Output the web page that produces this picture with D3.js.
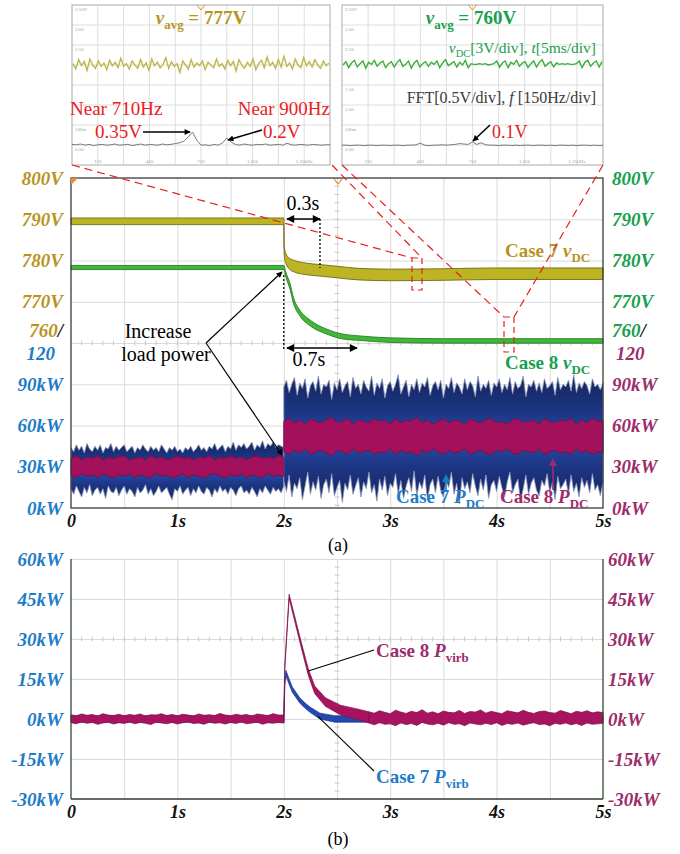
<!DOCTYPE html>
<html><head><meta charset="utf-8">
<script src="https://cdn.jsdelivr.net/npm/d3@7"></script>
<style>body{margin:0;background:#fff} svg text{font-family:"Liberation Serif","DejaVu Serif","Times New Roman",serif}</style>
</head><body><svg id="c" width="680" height="854"></svg>
<script>
// ---------------- DATA ----------------
const timeTicks = [0,1,2,3,4,5];
const vTicksLeft = [770,780,790,800];
const pTicksA = [0,30,60,90];
const pTicksB = [-30,-15,0,15,30,45,60];

// Case 7 vDC (s, V) and band half-width (V)
const tV7 = [0,1.0,2.0,2.003,2.02,2.05,2.1,2.2,2.35,2.5,2.7,3.0,3.5,4.0,4.5,5.0];
const v7  = [789.5,789.5,789.5,782.5,780.5,779.3,778.6,778.0,777.6,777.2,776.7,776.5,776.6,776.8,776.8,776.8];
const w7  = [0.8,0.8,0.8,1.0,1.2,1.3,1.4,1.4,1.4,1.4,1.4,1.4,1.4,1.4,1.4,1.4];
// Case 8 vDC
const tV8 = [0,2.0,2.02,2.06,2.09,2.15,2.25,2.4,2.55,2.7,3.0,3.5,4.0,5.0];
const v8  = [778.3,778.3,776.5,773.6,770.4,767.3,764.8,762.8,761.6,761.2,760.7,760.5,760.5,760.5];
const w8  = [0.5,0.5,0.6,0.7,0.7,0.7,0.7,0.6,0.6,0.55,0.55,0.55,0.55,0.55];

// Case 7 PDC envelope (kW), 0.025 s samples; pre: 0..2 s, post: 2..5 s
const p7PreHi = [44,41,46,42,45,40,47,43,41,45,42,46,40,44,43,47,41,45,42,44,46,41,43,45,40,44,42,46,43,41,45,42,44,41,46,43,40,44,42,45,
 41,43,40,44,42,45,41,43,46,42,44,41,45,43,47,42,44,46,41,45,43,48,42,46,44,47,43,45,48,42,46,44,49,43,47,45,48,44,46,45,44];
const p7PreLo = [14,10,16,12,8,15,11,17,9,13,15,10,14,7,16,12,11,15,9,13,16,10,14,12,8,15,11,13,17,10,14,9,12,16,11,13,15,10,6,14,
 12,16,10,13,15,9,14,11,16,12,10,15,13,8,14,11,16,12,14,10,15,13,9,14,16,11,13,10,15,12,8,14,11,16,13,10,15,12,14,11,16];
const p7PostHi = [88,93,84,90,95,82,91,87,94,80,89,92,85,96,83,90,88,93,79,91,86,94,84,89,92,81,95,87,90,83,93,88,85,96,82,91,87,94,80,89,
 92,85,90,97,83,88,93,81,90,86,94,84,91,88,95,82,89,92,86,93,80,90,87,95,84,91,88,83,94,86,92,89,81,96,85,90,87,93,82,91,
 88,94,84,90,86,95,83,92,87,89,96,81,90,88,93,85,91,84,94,87,89,92,82,95,86,90,88,93,85,97,84,91,87,92,89,83,94,88,90,86,91];
const p7PostLo = [20,12,24,8,18,14,22,6,16,26,10,19,13,23,7,17,21,11,25,9,15,20,4,18,13,24,10,16,22,8,19,14,26,11,17,5,21,13,23,9,
 18,15,25,10,20,7,16,22,12,27,9,19,14,24,6,17,21,11,23,13,8,20,15,26,10,18,3,22,14,19,11,25,16,9,21,13,24,7,17,20,
 12,23,15,8,19,26,11,17,21,5,14,24,10,18,22,13,9,20,16,25,11,19,6,23,14,17,21,10,24,12,18,8,22,15,20,11,25,13,17,9,19];
// Case 8 PDC envelope (kW), 0.05 s samples
const p8PreHi = [36,38,35,37,36,38,35,37,36,37,38,35,36,37,35,38,36,37,35,36,38,36,37,35,37,36,38,35,37,36,38,36,37,35,37,38,36,37,36,38,37];
const p8PreLo = [24,22,25,23,24,22,25,23,22,24,23,25,22,24,23,22,25,23,24,22,23,25,22,24,23,22,24,25,23,22,24,23,25,22,24,23,22,25,23,24,23];
const p8PostHi = [63,65,62,64,61,65,63,62,64,66,62,63,65,61,64,63,62,65,63,64,61,65,62,64,63,66,62,64,61,63,65,62,64,63,61,65,63,62,64,65,62,63,61,64,65,62,63,64,61,65,63,62,64,63,65,61,64,62,65,63,64];
const p8PostLo = [41,39,42,40,43,39,41,42,40,38,42,41,39,43,40,41,42,39,41,40,43,39,42,40,41,38,42,40,43,41,39,42,40,41,43,39,41,42,40,39,42,41,43,40,39,42,41,40,43,39,41,42,40,41,39,43,40,42,39,41,40];

// Case 7 Pvirb (kW) with band half-width
const tP7 = [0,2.0,2.01,2.02,2.05,2.08,2.15,2.2,2.25,2.34,2.48,5.0];
const pv7 = [0,0,14,17.2,14,11,7,5,3.4,1.1,0,0];
const wv7 = [1.2,1.2,1,1,1,1,1,1,1,1.1,1.2,1.2];
// Case 8 Pvirb: transient 2.0..2.8 s (mean, half-width), noise envelopes 0..2 s and 2.8..5 s (0.05 s samples)
const tP8 = [2.0,2.01,2.05,2.1,2.15,2.23,2.29,2.39,2.53,2.72,2.8];
const pv8 = [0,20,46,38,30,17.6,11,6.4,3.4,1.5,0.6];
const wv8 = [1.5,0.8,0.8,0.9,1.0,1.2,1.4,1.6,1.8,2.0,2.1];
const n8PreHi = [1.6,1.2,1.9,1.4,1.7,1.1,2.0,1.5,1.3,1.8,1.2,1.7,1.4,1.9,1.1,1.6,1.5,2.0,1.3,1.7,1.2,1.8,1.5,1.1,1.9,1.4,1.6,1.3,2.1,1.5,1.2,1.8,1.4,1.7,1.1,1.9,1.6,1.3,2.0,1.5,1.5];
const n8PreLo = [-1.4,-1.8,-1.1,-1.6,-1.3,-2.0,-1.5,-1.2,-1.9,-1.4,-1.7,-1.1,-1.8,-1.3,-1.6,-2.1,-1.2,-1.5,-1.8,-1.3,-1.9,-1.4,-1.1,-1.7,-1.5,-2.0,-1.2,-1.6,-1.4,-1.9,-1.3,-1.7,-1.1,-1.8,-1.5,-1.2,-2.0,-1.4,-1.6,-1.3,-1.5];
const n8PostHi = [2.7,2.2,3.1,2.5,2.0,3.3,2.6,2.1,2.9,2.4,3.5,2.2,2.7,2.0,3.0,2.5,2.3,3.2,2.1,2.8,2.6,3.4,2.2,2.9,2.4,2.0,3.1,2.7,2.3,3.3,2.5,2.1,2.8,3.0,2.4,2.2,3.2,2.6,2.0,2.9,2.5,3.1,2.3,2.7,2.4];
const n8PostLo = [-1.5,-2.2,-1.4,-2.0,-1.8,-2.5,-1.5,-2.1,-1.7,-2.4,-1.3,-1.9,-2.2,-1.6,-2.3,-1.4,-2.0,-1.8,-2.5,-1.5,-1.9,-2.2,-1.6,-2.1,-1.4,-2.4,-1.7,-2.0,-1.5,-2.3,-1.8,-1.4,-2.1,-1.9,-2.5,-1.6,-2.0,-1.5,-2.2,-1.7,-2.4,-1.5,-2.0,-1.8,-1.6];

// Inset waveforms (V) and FFT (V, 25 Hz bins)
const ins7 = [777.2,776.4,777.8,776.9,777.5,776.2,777.9,777.0,776.5,777.6,776.8,777.3,776.3,777.7,776.9,777.4,776.6,778.0,776.8,777.2,776.4,777.6,777.0,776.5,777.8,776.7,777.3,776.2,777.9,776.9,777.4,776.6,777.1,778.1,776.5,777.5,776.8,777.2,775.9,777.6,
777.0,776.4,777.8,776.7,777.3,776.9,777.6,776.3,777.4,777.0,776.6,777.9,776.8,777.2,776.4,777.7,776.9,777.5,776.1,777.8,777.0,776.5,777.4,776.8,777.9,776.3,777.2,777.7,776.6,778.2,
776.9,777.4,776.5,777.8,776.7,778.3,776.8,777.3,776.4,777.9,777.0,776.6,778.1,776.9,777.5,776.7,777.8,777.0,776.5,777.6,776.9,777.3];
const ins8 = [760.0,760.5,759.6,760.3,760.7,759.7,760.2,760.6,759.5,760.4,760.1,760.7,759.8,760.3,760.6,759.6,760.2,760.5,759.7,760.4,760.8,759.8,760.1,760.6,759.5,760.3,760.7,759.7,760.2,760.5,759.8,760.4,760.1,760.6,759.6,760.3,760.8,759.9,760.2,760.5,
759.7,760.4,760.0,760.7,759.6,760.2,760.1,760.1,760.2,760.1,760.2,760.0,760.1,760.2,760.6,759.7,760.3,760.6,759.6,760.4,760.1,760.7,759.8,760.3,760.5,759.6,760.2,760.6,759.7,760.4,
760.8,759.8,760.2,760.5,759.7,760.3,760.1,760.2,760.1,760.2,760.1,760.1,760.2,760.6,759.6,760.4,760.7,759.8,760.3,760.6,759.7,760.5];
const fft7 = [0.04,0.03,0.05,0.02,0.04,0.01,0.03,0.04,0.02,0.03,0.05,0.02,0.03,0.04,0.01,0.03,0.05,0.02,0.04,0.03,0.02,0.05,0.03,0.04,0.06,0.08,0.12,0.22,0.35,0.15,0.02,0.03,0.01,0.04,0.02,0.08,0.20,0.10,0.04,0.02,0.05,0.03,0.02,0.04,0.03,0.05,0.02,0.03,0.04,0.02,0.07,0.03,0.02,0.04,0.03,0.02,0.04,0.03,0.02,0.03,0.03];
const fft8 = [0.02,0.02,0.01,0.02,0.02,0.01,0.02,0.02,0.01,0.02,0.02,0.01,0.02,0.02,0.01,0.02,0.02,0.03,0.07,0.02,0.01,0.02,0.02,0.03,0.02,0.03,0.04,0.06,0.05,0.04,0.10,0.04,0.08,0.03,0.02,0.02,0.01,0.02,0.02,0.01,0.02,0.01,0.02,0.02,0.01,0.02,0.02,0.01,0.02,0.01,0.02,0.02,0.01,0.02,0.01,0.02,0.02,0.01,0.02,0.01,0.02];
const insYLabels = ["3.50V","3.00","2.50","2.00","1.50","1.00","500m","0.00"];
const insXLabels = ["150","450","750","1.05k","1.35kHz"];

// ---------------- DRAW ----------------
const SERIF = "'Liberation Serif','DejaVu Serif','Times New Roman',serif";
const svg = d3.select("#c").attr("font-family",SERIF);
const C = {gold:"#B8941E", green:"#17A04E", blue:"#1E7CC6", maroon:"#9C2C6C", red:"#E8201E"};
const xA = d3.scaleLinear().domain([0,5]).range([71,603]);
const yV = d3.scaleLinear().domain([760,800]).range([343,178]);
const yP = d3.scaleLinear().domain([0,120]).range([508,343]);
const yB = d3.scaleLinear().domain([-30,60]).range([799,559]);

const defs = svg.append("defs");
defs.append("marker").attr("id","ah").attr("viewBox","0 0 10 10").attr("refX",9).attr("refY",5)
  .attr("markerWidth",8).attr("markerHeight",6).attr("markerUnits","userSpaceOnUse").attr("orient","auto-start-reverse")
  .append("path").attr("d","M0,0L10,5L0,10z").attr("fill","#000");
defs.append("marker").attr("id","ahb").attr("viewBox","0 0 10 10").attr("refX",9).attr("refY",5)
  .attr("markerWidth",10).attr("markerHeight",8).attr("markerUnits","userSpaceOnUse").attr("orient","auto-start-reverse")
  .append("path").attr("d","M0,0L10,5L0,10z").attr("fill","#000");
function grad(id, y1, y2, stops){
  const g = defs.append("linearGradient").attr("id",id).attr("gradientUnits","userSpaceOnUse")
    .attr("x1",0).attr("x2",0).attr("y1",y1).attr("y2",y2);
  stops.forEach(s=>g.append("stop").attr("offset",s[0]).attr("stop-color",s[1]));
}
const bStops = [[0,"#16245a"],[0.3,"#1d3786"],[0.5,"#2a4ca8"],[0.7,"#1d3786"],[1,"#16245a"]];
grad("gPre", yP(49), yP(4), bStops);
grad("gPost", yP(97), yP(3), bStops);

function rich(x, y, parts, fill, size, weight, anchor){
  const t = svg.append("text").attr("x",x).attr("y",y).attr("fill",fill).attr("font-size",size)
    .attr("font-family",SERIF).attr("font-weight",weight||"normal").attr("text-anchor",anchor||"start");
  let sh = 0;
  parts.forEach(p=>{
    const s = t.append("tspan").text(p[0]);
    const k = p[1]||"";
    if (k.includes("i")) s.attr("font-style","italic");
    if (k.includes("s")) { s.attr("font-size",size*0.68); if(!sh){ s.attr("dy",size*0.28); sh=size*0.28; } }
    else if (sh) { s.attr("dy",-sh); sh=0; }
  });
  return t;
}
function txt(x,y,s,size,opt){
  const t = svg.append("text").attr("x",x).attr("y",y).attr("font-size",size).attr("font-family",SERIF).text(s);
  Object.entries(opt||{}).forEach(([k,v])=>t.attr(k,v));
  return t;
}
function styleAxis(g, color, size){
  g.attr("font-family",SERIF);
  g.select(".domain").remove();
  g.selectAll("text").attr("fill",color).attr("font-size",size||19).attr("font-weight","bold").attr("font-style","italic")
    .attr("font-family",SERIF);
}

// ---- Chart (a) grid ----
const ga = svg.append("g");
ga.append("g").attr("transform","translate(0,508)")
  .call(d3.axisBottom(xA).tickValues(d3.range(0.5,5,0.5)).tickSize(-330).tickFormat(""))
  .call(g=>{g.select(".domain").remove(); g.selectAll("line").attr("stroke","#dadada");});
ga.append("g").attr("transform","translate(71,0)")
  .call(d3.axisLeft(yV).tickValues([770,780,790]).tickSize(-532).tickFormat(""))
  .call(g=>{g.select(".domain").remove(); g.selectAll("line").attr("stroke","#dadada");});
ga.append("g").attr("transform","translate(71,0)")
  .call(d3.axisLeft(yP).tickValues([30,60,90,120]).tickSize(-532).tickFormat(""))
  .call(g=>{g.select(".domain").remove(); g.selectAll("line").attr("stroke","#dadada");});
ga.selectAll(".mtx").data(d3.range(0.1,5,0.1)).join("line")
  .attr("x1",d=>xA(d)).attr("x2",d=>xA(d)).attr("y1",yP(120)-2.5).attr("y2",yP(120)+2.5).attr("stroke","#c8c8c8");
ga.selectAll(".mty").data(d3.range(2,120,6)).join("line")
  .attr("x1",xA(2.5)-2.5).attr("x2",xA(2.5)+2.5).attr("y1",d=>yP(d)).attr("y2",d=>yP(d)).attr("stroke","#c8c8c8");
ga.selectAll(".mtv").data(d3.range(762,800,2)).join("line")
  .attr("x1",xA(2.5)-2.5).attr("x2",xA(2.5)+2.5).attr("y1",d=>yV(d)).attr("y2",d=>yV(d)).attr("stroke","#c8c8c8");

// ---- Power traces (a) ----
function envArea(hi, lo, t0, dt, ys){
  return d3.area().x((d,i)=>xA(t0+i*dt)).y1((d,i)=>ys(hi[i])).y0((d,i)=>ys(lo[i]));
}
svg.append("path").datum(p7PreHi).attr("d",envArea(p7PreHi,p7PreLo,0,0.025,yP))
  .attr("fill","url(#gPre)").attr("stroke","#8c98bc").attr("stroke-width",0.8);
svg.append("path").datum(p7PostHi).attr("d",envArea(p7PostHi,p7PostLo,2,0.025,yP))
  .attr("fill","url(#gPost)").attr("stroke","#8c98bc").attr("stroke-width",0.8);
svg.append("path").datum(p8PreHi).attr("d",envArea(p8PreHi,p8PreLo,0,0.05,yP))
  .attr("fill","#a3105c").attr("stroke","#7a0c46").attr("stroke-width",0.8);
svg.append("path").datum(p8PostHi).attr("d",envArea(p8PostHi,p8PostLo,2,0.05,yP))
  .attr("fill","#a3105c").attr("stroke","#7a0c46").attr("stroke-width",0.8);

// ---- Voltage traces (a) ----
function vBand(t, v, w){
  return d3.area().curve(d3.curveMonotoneX).x((d,i)=>xA(t[i])).y0((d,i)=>yV(v[i]-w[i])).y1((d,i)=>yV(v[i]+w[i]));
}
svg.append("path").datum(v8).attr("d",vBand(tV8,v8,w8)).attr("fill","#3fb83a").attr("stroke","#2b7f22").attr("stroke-width",0.9);
svg.append("path").datum(v7).attr("d",vBand(tV7,v7,w7)).attr("fill","#bdb423").attr("stroke","#6e6a12").attr("stroke-width",0.9);

svg.append("rect").attr("x",71).attr("y",178).attr("width",532).attr("height",330)
  .attr("fill","none").attr("stroke","#3a3a3a").attr("stroke-width",1.3);
svg.append("path").attr("d","M71,178L78,178L71,185Z").attr("fill","#f08a24");
svg.append("path").attr("d","M334,179L338,184L342,179").attr("fill","none").attr("stroke","#f08a24").attr("stroke-width",1.2);

// axes labels (a)
svg.append("g").attr("transform","translate(71,0)").call(d3.axisLeft(yV).tickValues(vTicksLeft).tickSize(0).tickPadding(8).tickFormat(d=>d+"V")).call(g=>styleAxis(g,C.gold));
svg.append("g").attr("transform","translate(603,0)").call(d3.axisRight(yV).tickValues(vTicksLeft).tickSize(0).tickPadding(9).tickFormat(d=>d+"V")).call(g=>styleAxis(g,C.green));
svg.append("g").attr("transform","translate(71,0)").call(d3.axisLeft(yP).tickValues(pTicksA).tickSize(0).tickPadding(8).tickFormat(d=>d+"kW")).call(g=>styleAxis(g,C.blue));
svg.append("g").attr("transform","translate(603,0)").call(d3.axisRight(yP).tickValues(pTicksA).tickSize(0).tickPadding(9).tickFormat(d=>d+"kW")).call(g=>styleAxis(g,C.maroon));
svg.append("g").attr("transform","translate(0,508)").call(d3.axisBottom(xA).tickValues(timeTicks).tickSize(0).tickPadding(6).tickFormat(d=>d?d+"s":"0")).call(g=>styleAxis(g,"#111",18));
function combo(x, anchor, c1, c2){
  const t = svg.append("text").attr("x",x).attr("y",337).attr("font-size",19).attr("font-family",SERIF).attr("font-weight","bold").attr("font-style","italic").attr("text-anchor",anchor);
  t.append("tspan").attr("fill",c1).text("760"); t.append("tspan").attr("fill","#111").text("/");
  svg.append("text").attr("x", anchor==="end"? x-8 : x+4).attr("y",360).attr("font-size",19).attr("font-family",SERIF).attr("font-weight","bold").attr("font-style","italic")
    .attr("text-anchor",anchor).attr("fill",c2).text("120");
}
combo(63,"end",C.gold,C.blue);
combo(612,"start",C.green,C.maroon);

// annotations (a)
txt(303,210,"0.3s",20,{"text-anchor":"middle"});
svg.append("line").attr("x1",287).attr("x2",320).attr("y1",219).attr("y2",219).attr("stroke","#000").attr("stroke-width",1.6)
  .attr("marker-start","url(#ahb)").attr("marker-end","url(#ahb)");
svg.append("line").attr("x1",xA(2.34)).attr("x2",xA(2.34)).attr("y1",219).attr("y2",268).attr("stroke","#000").attr("stroke-width",1.3).attr("stroke-dasharray","2,2");
svg.append("line").attr("x1",xA(2.0)).attr("x2",xA(2.0)).attr("y1",275).attr("y2",350).attr("stroke","#000").attr("stroke-width",1.3).attr("stroke-dasharray","2,2");
svg.append("line").attr("x1",287).attr("x2",357).attr("y1",348).attr("y2",348).attr("stroke","#000").attr("stroke-width",1.6)
  .attr("marker-start","url(#ahb)").attr("marker-end","url(#ahb)");
txt(309,366,"0.7s",20,{"text-anchor":"middle"});
txt(158,338,"Increase",20,{"text-anchor":"middle"});
txt(166,361,"load power",20,{"text-anchor":"middle"});
svg.append("line").attr("x1",206).attr("y1",343).attr("x2",282).attr("y2",272).attr("stroke","#000").attr("stroke-width",1.2).attr("marker-end","url(#ah)");
svg.append("line").attr("x1",206).attr("y1",343).attr("x2",282).attr("y2",455).attr("stroke","#000").attr("stroke-width",1.2).attr("marker-end","url(#ah)");

rich(505,257,[["Case 7 "],["v","i"],["DC","s"]],C.gold,19,"bold");
rich(505,369,[["Case 8 "],["v","i"],["DC","s"]],C.green,19,"bold");
rich(396,503,[["Case 7 "],["P","i"],["DC","s"]],C.blue,19,"bold");
rich(500,503,[["Case 8 "],["P","i"],["DC","s"]],C.maroon,19,"bold");
svg.append("line").attr("x1",446).attr("x2",446).attr("y1",490).attr("y2",480).attr("stroke","#1e7cc6").attr("stroke-width",1.6);
svg.append("path").attr("d","M442,482L446,474L450,482Z").attr("fill","#1e7cc6");
svg.append("line").attr("x1",553).attr("x2",553).attr("y1",490).attr("y2",464).attr("stroke","#9c2c6c").attr("stroke-width",1.6);
svg.append("path").attr("d","M549,466L553,458L557,466Z").attr("fill","#9c2c6c");
txt(338,551,"(a)",18,{"text-anchor":"middle"});

// ---- Insets ----
function inset(x0, y0, w, h, wave, yc, color, fft, skipRows){
  const g = svg.append("g");
  g.append("rect").attr("x",x0).attr("y",y0).attr("width",w).attr("height",h).attr("fill","#fff");
  g.selectAll(".gx").data(d3.range(1,10)).join("line").attr("x1",d=>x0+d*w/10).attr("x2",d=>x0+d*w/10)
    .attr("y1",y0).attr("y2",y0+h).attr("stroke","#dedede");
  g.selectAll(".gy").data(d3.range(1,8)).join("line").attr("y1",d=>y0+d*h/8).attr("y2",d=>y0+d*h/8)
    .attr("x1",x0).attr("x2",x0+w).attr("stroke","#dedede");
  g.append("rect").attr("x",x0).attr("y",y0).attr("width",w).attr("height",h).attr("fill","none").attr("stroke","#a9a9a9");
  g.selectAll(".ly").data(insYLabels.map((d,i)=>[d,i]).filter(d=>!skipRows.includes(d[1]))).join("text").attr("x",x0+3).attr("y",d=>y0+d[1]*h/8+6).attr("font-size",5)
    .attr("fill","#a0a0a0").attr("font-family","'DejaVu Sans',sans-serif").text(d=>d[0]);
  g.selectAll(".lx").data(insXLabels).join("text").attr("x",(d,i)=>x0+(2*i+1)*w/10).attr("y",y0+h-2).attr("font-size",5)
    .attr("text-anchor","middle").attr("fill","#a0a0a0").attr("font-family","'DejaVu Sans',sans-serif").text(d=>d);
  g.append("path").attr("d",`M${x0+w/2-4},${y0}L${x0+w/2},${y0+5}L${x0+w/2+4},${y0}`).attr("fill","none").attr("stroke","#f08a24");
  const xs = d3.scaleLinear().domain([0,wave.length-1]).range([x0+1,x0+w-1]);
  const ys = d3.scaleLinear().domain([yc,yc+3]).range([y0+60,y0+40]);
  g.append("path").datum(wave).attr("d",d3.line().x((d,i)=>xs(i)).y(d=>ys(d))).attr("fill","none").attr("stroke",color).attr("stroke-width",1.4);
  const xf = d3.scaleLinear().domain([0,1500]).range([x0,x0+w]);
  const yf = d3.scaleLinear().domain([0,0.5]).range([y0+141,y0+121]);
  g.append("path").datum(fft).attr("d",d3.line().x((d,i)=>xf(i*25)).y(d=>yf(d))).attr("fill","none").attr("stroke","#7a7a7a").attr("stroke-width",1);
}
inset(72,5,258,160,ins7,777,"#bdb84a",fft7,[3,4,5]);
inset(342,5,261,160,ins8,760,"#3cae3c",fft8,[3]);

rich(201,24,[["v","i"],["avg","s"],[" = 777V"]],C.gold,19,"bold","middle");
rich(471,24,[["v","i"],["avg","s"],[" = 760V"]],C.green,19,"bold","middle");
rich(596,53,[["v","i"],["DC","s"],["[3V/div], "],["t","i"],["[5ms/div]"]],C.green,15.5,"normal","end");
rich(596,103,[["FFT[0.5V/div], "],["f","i"],[" [150Hz/div]"]],"#3a3a3a",16,"normal","end");
txt(70,115,"Near 710Hz",19,{fill:C.red});
txt(95,138,"0.35V",19,{fill:C.red});
txt(330,115,"Near 900Hz",19,{fill:C.red,"text-anchor":"end"});
txt(263,138,"0.2V",19,{fill:C.red});
txt(492,138,"0.1V",18,{fill:C.red});
svg.append("line").attr("x1",143).attr("y1",132).attr("x2",190).attr("y2",132).attr("stroke","#000").attr("stroke-width",1.5).attr("marker-end","url(#ah)");
svg.append("line").attr("x1",262).attr("y1",130).attr("x2",228).attr("y2",140).attr("stroke","#000").attr("stroke-width",1.5).attr("marker-end","url(#ah)");
svg.append("line").attr("x1",490).attr("y1",125).attr("x2",473).attr("y2",141).attr("stroke","#000").attr("stroke-width",1.5).attr("marker-end","url(#ah)");

// red zoom guides
const dash = {stroke:C.red, "stroke-width":1.2, "stroke-dasharray":"8,5", fill:"none"};
function rl(x1,y1,x2,y2){ const l=svg.append("line").attr("x1",x1).attr("y1",y1).attr("x2",x2).attr("y2",y2); Object.entries(dash).forEach(([k,v])=>l.attr(k,v)); }
rl(72,165,412,258); rl(332,165,422,258); rl(342,165,504,317); rl(603,165,514,317);
function rr(x,y,w,h){ const r=svg.append("rect").attr("x",x).attr("y",y).attr("width",w).attr("height",h); Object.entries(dash).forEach(([k,v])=>r.attr(k,v)); r.attr("stroke-dasharray","6,4"); }
rr(412,258,10,32); rr(504,317,10,35);

// ---- Chart (b) ----
const gb = svg.append("g");
gb.append("g").attr("transform","translate(0,799)")
  .call(d3.axisBottom(xA).tickValues(d3.range(0.5,5,0.5)).tickSize(-240).tickFormat(""))
  .call(g=>{g.select(".domain").remove(); g.selectAll("line").attr("stroke","#dadada");});
gb.append("g").attr("transform","translate(71,0)")
  .call(d3.axisLeft(yB).tickValues([-15,0,15,30,45,60]).tickSize(-532).tickFormat(""))
  .call(g=>{g.select(".domain").remove(); g.selectAll("line").attr("stroke","#dadada");});
gb.selectAll(".mtx").data(d3.range(0.1,5,0.1)).join("line")
  .attr("x1",d=>xA(d)).attr("x2",d=>xA(d)).attr("y1",yB(30)-2.5).attr("y2",yB(30)+2.5).attr("stroke","#c8c8c8");
gb.selectAll(".mty").data(d3.range(-27,60,3)).join("line")
  .attr("x1",xA(2.5)-2.5).attr("x2",xA(2.5)+2.5).attr("y1",d=>yB(d)).attr("y2",d=>yB(d)).attr("stroke","#c8c8c8");

function pBand(t,p,w){ return d3.area().x((d,i)=>xA(t[i])).y0((d,i)=>yB(p[i]-w[i])).y1((d,i)=>yB(p[i]+w[i])); }
svg.append("path").datum(pv7).attr("d",pBand(tP7,pv7,wv7)).attr("fill","#2448b0").attr("stroke","#1a3590").attr("stroke-width",0.7);
const mStyle = p => p.attr("fill","#a8135f").attr("stroke","#7c0e47").attr("stroke-width",0.7);
mStyle(svg.append("path").datum(n8PreHi).attr("d",envArea(n8PreHi,n8PreLo,0,0.05,yB)));
mStyle(svg.append("path").datum(pv8).attr("d",pBand(tP8,pv8,wv8)));
mStyle(svg.append("path").datum(n8PostHi).attr("d",envArea(n8PostHi,n8PostLo,2.8,0.05,yB)));

svg.append("line").attr("x1",71).attr("x2",71).attr("y1",559).attr("y2",799).attr("stroke","#2f4a2f").attr("stroke-width",1.3);
svg.append("line").attr("x1",603).attr("x2",603).attr("y1",559).attr("y2",799).attr("stroke","#2f4a2f").attr("stroke-width",1.3);
svg.append("line").attr("x1",71).attr("x2",603).attr("y1",799).attr("y2",799).attr("stroke","#2f3a2f").attr("stroke-width",1.3);

svg.append("g").attr("transform","translate(71,0)").call(d3.axisLeft(yB).tickValues(pTicksB).tickSize(0).tickPadding(8).tickFormat(d=>d+"kW")).call(g=>styleAxis(g,C.blue));
svg.append("g").attr("transform","translate(603,0)").call(d3.axisRight(yB).tickValues(pTicksB).tickSize(0).tickPadding(5).tickFormat(d=>d+"kW")).call(g=>styleAxis(g,C.maroon));
svg.append("g").attr("transform","translate(0,799)").call(d3.axisBottom(xA).tickValues(timeTicks).tickSize(0).tickPadding(6).tickFormat(d=>d?d+"s":"0")).call(g=>styleAxis(g,"#111",18));

svg.append("line").attr("x1",xA(2.23)).attr("y1",yB(18)).attr("x2",374).attr("y2",650).attr("stroke","#000").attr("stroke-width",1.1);
svg.append("line").attr("x1",xA(2.32)).attr("y1",yB(1)).attr("x2",374).attr("y2",771).attr("stroke","#000").attr("stroke-width",1.1);
rich(376,657,[["Case 8 "],["P","i"],["virb","s"]],C.maroon,19,"bold");
rich(376,783,[["Case 7 "],["P","i"],["virb","s"]],C.blue,19,"bold");
txt(338,845,"(b)",18,{"text-anchor":"middle"});
</script></body></html>
